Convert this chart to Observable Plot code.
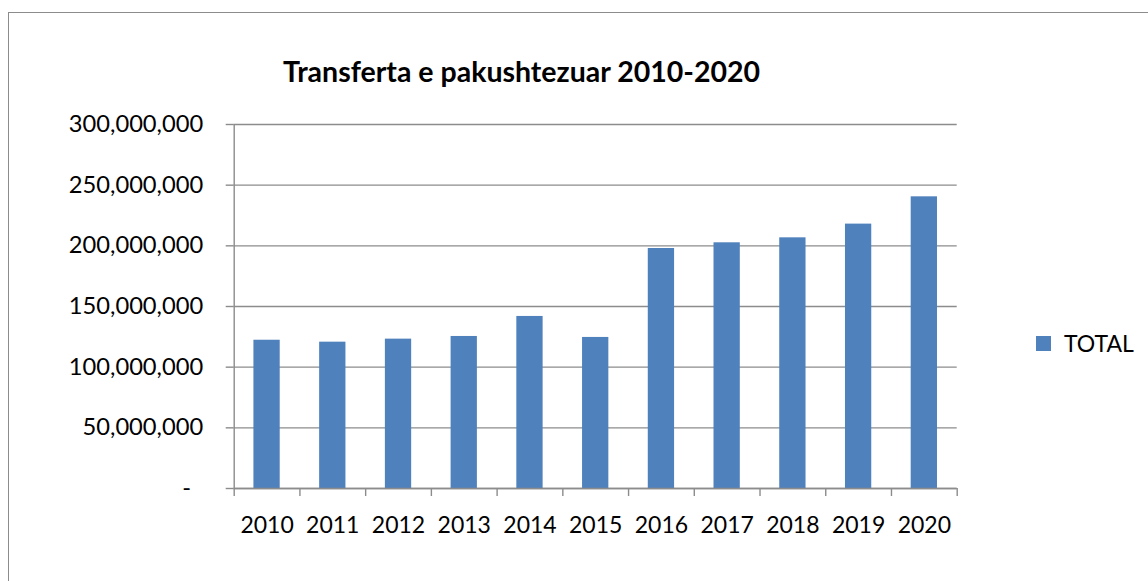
<!DOCTYPE html>
<html>
<head>
<meta charset="utf-8">
<script src="https://cdn.jsdelivr.net/npm/d3@7"></script>
<script src="https://cdn.jsdelivr.net/npm/@observablehq/plot@0.6"></script>
<style>
  html, body { margin: 0; padding: 0; background: #fff; overflow: hidden; }
  #wrap { position: relative; width: 1148px; height: 581px; overflow: hidden; font-family: Lato, "Open Sans", sans-serif; }
  #border { position: absolute; left: 8px; top: 12px; width: 1160px; height: 600px; border: 1.5px solid #8c8c8c; box-sizing: border-box; }
  #title { position: absolute; left: 0; width: 1043px; top: 57px; line-height: 1; text-align: center; font-weight: bold; font-size: 28.5px; color: #000; }
  #legend { position: absolute; left: 1036px; top: 329px; display: flex; align-items: center; font-size: 23px; color: #000; }
  #legend .sw { width: 15px; height: 15px; background: #4f81bd; margin-right: 13px; }
  #chart { position: absolute; left: 0; top: 0; }
</style>
</head>
<body>
<div id="wrap">
  <div id="border"></div>
  <div id="chart"></div>
  <div id="title">Transferta e pakushtezuar 2010-2020</div>
  <div id="legend"><div class="sw"></div><span id="legendLabel"></span></div>
</div>
<script>
const years = [2010, 2011, 2012, 2013, 2014, 2015, 2016, 2017, 2018, 2019, 2020];
const totals = [122.2e6, 120.6e6, 123.1e6, 125.3e6, 141.8e6, 124.5e6, 197.8e6, 202.5e6, 206.6e6, 217.9e6, 240.4e6];
const yTicks = [0, 50e6, 100e6, 150e6, 200e6, 250e6, 300e6];
const seriesName = "TOTAL";

const data = years.map((year, i) => ({year, value: totals[i]}));
const boundaries = [...years.map(y => y - 0.5), years[years.length - 1] + 0.5];

document.getElementById("legendLabel").textContent = seriesName;

const gray = "#8c8c8c";
const fmt = d3.format(",");

const chart = Plot.plot({
  width: 1148,
  height: 581,
  marginLeft: 233.7,
  marginRight: 191.3,
  marginTop: 124,
  marginBottom: 93,
  style: { fontFamily: "Lato, 'Open Sans', sans-serif", color: "#000", background: "transparent", overflow: "visible" },
  x: { type: "linear", domain: [boundaries[0], boundaries[boundaries.length - 1]] },
  y: { domain: [0, 300e6] },
  marks: [
    Plot.gridY(yTicks, { stroke: gray, strokeOpacity: 1, strokeWidth: 1.4 }),
    Plot.rectY(data, { x1: d => d.year - 0.2, x2: d => d.year + 0.2, y: "value", fill: "#4f81bd" }),
    Plot.ruleX([boundaries[0]], { stroke: gray, strokeWidth: 1.4 }),
    Plot.ruleY([0], { stroke: gray, strokeWidth: 1.4 }),
    Plot.axisY({
      ticks: yTicks, tickSize: 8, tickPadding: 23, stroke: gray, strokeWidth: 1.4, strokeOpacity: 1,
      fontSize: 23.7, label: null,
      tickFormat: d => d === 0 ? "-\u00a0\u00a0" : fmt(d)
    }),
    Plot.axisX({
      ticks: boundaries, tickSize: 8, tickFormat: () => "", stroke: gray, strokeWidth: 1.4, strokeOpacity: 1, label: null
    }),
    Plot.axisX({
      ticks: years, tickSize: 0, tickPadding: 27.7, fontSize: 23, label: null,
      tickFormat: d => String(d)
    })
  ]
});
document.getElementById("chart").appendChild(chart);
</script>
</body>
</html>
